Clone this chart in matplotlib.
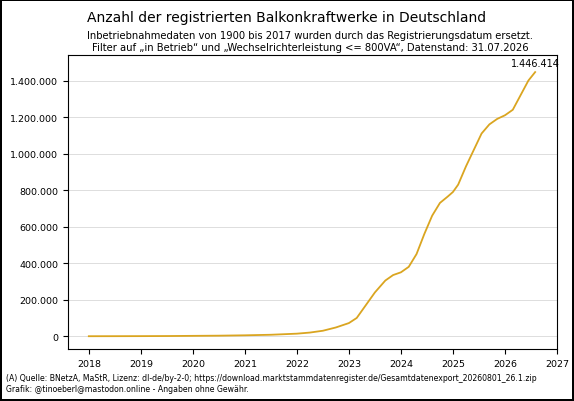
import matplotlib
matplotlib.use("Agg")
import matplotlib.pyplot as plt
from matplotlib.ticker import FuncFormatter
import numpy as np

years = [2018.0, 2018.5, 2019.0, 2019.5, 2020.0, 2020.5, 2021.0, 2021.5, 2022.0, 2022.25, 2022.5, 2022.75,
         2023.0, 2023.15, 2023.3, 2023.5, 2023.7, 2023.85, 2024.0, 2024.15, 2024.3, 2024.45, 2024.6, 2024.75,
         2024.9, 2025.0, 2025.1, 2025.25, 2025.4, 2025.55, 2025.7, 2025.85, 2026.0, 2026.15, 2026.3, 2026.45, 2026.58]
values = [0, 200, 500, 1000, 2000, 3000, 5000, 8000, 14000, 20000, 30000, 48000,
          72000, 100000, 160000, 240000, 305000, 335000, 350000, 380000, 450000, 560000, 660000, 730000,
          765000, 790000, 830000, 930000, 1020000, 1110000, 1160000, 1190000, 1210000, 1240000, 1320000, 1400000, 1446414]

fig = plt.figure(figsize=(5.74, 4.02), dpi=100)
fig.patch.set_edgecolor("black")
fig.patch.set_linewidth(1.5)
ax = fig.add_axes([68/574, 52/402, 489/574, 294/402])
ax.plot(years, values, color="#DAA520", lw=1.3)
ax.set_xlim(2017.6, 2027.0)
ax.set_ylim(-70000, 1540000)
ax.set_xticks(range(2018, 2028))
ax.set_yticks(range(0, 1400001, 200000))
ax.yaxis.set_major_formatter(FuncFormatter(lambda v, p: f"{int(v):,}".replace(",", ".")))
ax.grid(axis="y", color="#dddddd", lw=0.7)
ax.set_axisbelow(True)
ax.tick_params(labelsize=6.8)
ax.set_ylabel("Anzahl", fontsize=7)
ax.annotate("1.446.414", (years[-1], values[-1]), xytext=(0, 3), textcoords="offset points",
            ha="center", va="bottom", fontsize=7)
fig.text(0.5, 0.955, "Anzahl der registrierten Balkonkraftwerke in Deutschland", ha="center", va="center", fontsize=10)
fig.text(0.54, 0.895, "Inbetriebnahmedaten von 1900 bis 2017 wurden durch das Registrierungsdatum ersetzt.\n"
         "Filter auf \u201ein Betrieb\u201c und \u201eWechselrichterleistung <= 800VA\u201c, Datenstand: 31.07.2026",
         ha="center", va="center", fontsize=7.2, linespacing=1.2)
fig.text(0.01, 0.045, "(A) Quelle: BNetzA, MaStR, Lizenz: dl-de/by-2-0; https://download.marktstammdatenregister.de/Gesamtdatenexport_20260801_26.1.zip\n"
         "Grafik: @tinoeberl@mastodon.online - Angaben ohne Gew\u00e4hr.", ha="left", va="center", fontsize=5.6, linespacing=1.2)
fig.savefig("out.png", dpi=100)
